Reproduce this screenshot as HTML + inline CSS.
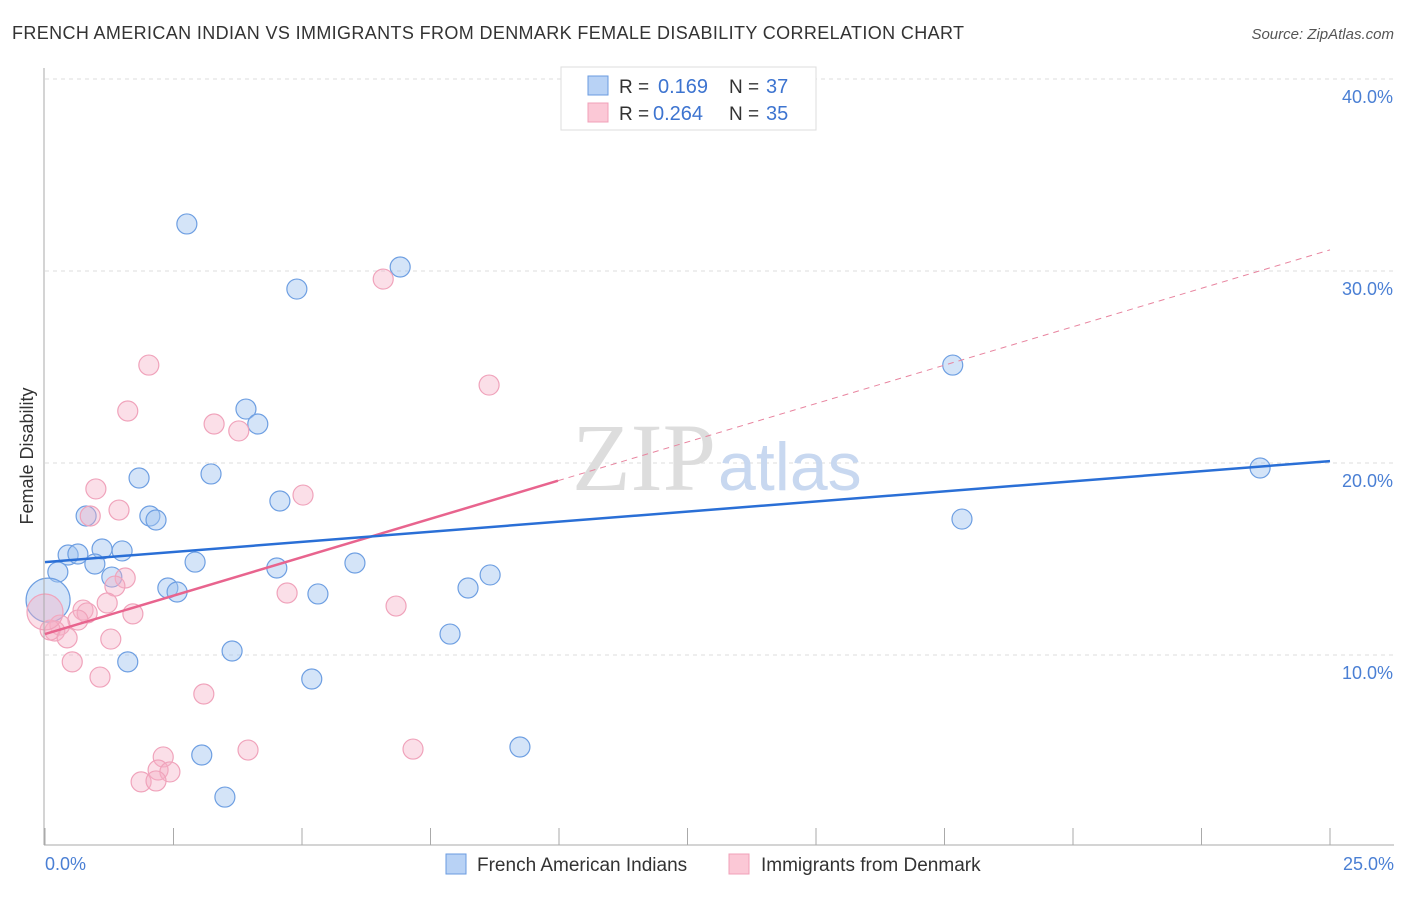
<!DOCTYPE html>
<html><head><meta charset="utf-8"><style>
body{margin:0;background:#fff;font-family:"Liberation Sans",sans-serif}
</style></head><body>
<svg id="chart" width="1406" height="892" xmlns="http://www.w3.org/2000/svg">
<text x="12" y="39" font-size="18" fill="#333" textLength="952" lengthAdjust="spacing">FRENCH AMERICAN INDIAN VS IMMIGRANTS FROM DENMARK FEMALE DISABILITY CORRELATION CHART</text>
<text x="1394" y="39" font-size="15" fill="#555" font-style="italic" text-anchor="end">Source: ZipAtlas.com</text>
<text x="33" y="456" font-size="18" fill="#333" text-anchor="middle" transform="rotate(-90 33 456)">Female Disability</text>
<g id="grid"></g>
<text x="716" y="490" font-size="96" fill="#ddd" font-family="Liberation Serif,serif" text-anchor="end">ZIP</text>
<text x="718" y="490" font-size="68" fill="#c8d8f0">atlas</text>
<g id="marks"></g>
<line x1="44" y1="68" x2="44" y2="845" stroke="#aaa"/>
<line x1="44" y1="845" x2="1394" y2="845" stroke="#aaa"/>
<text x="45" y="870" font-size="18" fill="#4a7fd4">0.0%</text>
<text x="1394" y="870" font-size="18" fill="#4a7fd4" text-anchor="end">25.0%</text>
<g>
<rect x="561" y="67" width="255" height="63" fill="#fff" stroke="#ddd"/>
<rect x="588" y="76" width="20" height="19" fill="#b8d2f5" stroke="#6a9be0"/>
<rect x="588" y="103" width="20" height="19" fill="#fbc8d6" stroke="#f0a0b8"/>
<text x="619" y="93" font-size="19" fill="#333">R =</text>
<text x="658" y="93" font-size="20" fill="#3d74d0">0.169</text>
<text x="729" y="93" font-size="19" fill="#333">N =</text>
<text x="766" y="93" font-size="20" fill="#3d74d0">37</text>
<text x="619" y="120" font-size="19" fill="#333">R =</text>
<text x="653" y="120" font-size="20" fill="#3d74d0">0.264</text>
<text x="729" y="120" font-size="19" fill="#333">N =</text>
<text x="766" y="120" font-size="20" fill="#3d74d0">35</text>
</g>
<g>
<rect x="446" y="854" width="20" height="20" fill="#b8d2f5" stroke="#6a9be0"/>
<text x="477" y="871" font-size="19" fill="#333">French American Indians</text>
<rect x="729" y="854" width="20" height="20" fill="#fbc8d6" stroke="#f0a0b8"/>
<text x="761" y="871" font-size="19" fill="#333">Immigrants from Denmark</text>
</g>
</svg>
<script>
const yTicks=[10,20,30,40];
const yTickLabels=["10.0%","20.0%","30.0%","40.0%"];
const xTicks=[0,2.5,5,7.5,10,12.5,15,17.5,20,22.5,25];
const blueX=[2.76,6.91,4.90,17.66,3.91,4.14,23.64,3.23,1.83,4.57,0.80,2.04,2.16,17.84,0.45,0.64,1.11,1.50,0.97,2.92,6.03,4.51,0.25,1.30,8.66,2.39,2.57,8.23,5.31,0.06,7.88,3.64,1.61,5.19,9.24,3.05,3.50];
const blueY=[32.45,30.21,29.06,25.10,22.81,22.03,19.74,19.43,19.22,18.02,17.24,17.24,17.03,17.08,15.21,15.26,15.52,15.42,14.74,14.84,14.79,14.53,14.32,14.06,14.17,13.49,13.28,13.49,13.18,12.86,11.09,10.21,9.64,8.75,5.21,4.79,2.60];
const pinkX=[6.58,2.02,8.64,1.61,3.29,3.77,0.99,5.02,0.88,1.44,1.56,1.36,4.71,1.21,6.83,0.74,0.82,1.71,0.64,0.29,0.19,0.10,0.43,1.28,0.53,1.07,3.09,3.95,7.16,2.30,2.20,2.43,1.87,2.16,0.0];
const pinkY=[29.58,25.10,24.06,22.71,22.03,21.67,18.65,18.33,17.24,17.55,14.01,13.59,13.23,12.71,12.55,12.34,12.19,12.14,11.82,11.56,11.25,11.30,10.89,10.83,9.64,8.85,7.97,5.05,5.10,4.69,4.01,3.91,3.39,3.44,12.24];
const blueTrend=[14.84,20.1];
const pinkTrend=[11.09,31.1];
const pinkSolidEnd=9.98;
const X=v=>45+v/25*1285, Y=v=>847-v*19.2;
const NS="http://www.w3.org/2000/svg";
function mk(t,a,p){const e=document.createElementNS(NS,t);for(const k in a)e.setAttribute(k,a[k]);p.appendChild(e);return e;}
const grid=document.getElementById('grid'), marks=document.getElementById('marks');
yTicks.forEach((t,i)=>{
 const l=mk('line',{x1:45,x2:1394,y1:Y(t),y2:Y(t),stroke:'#ddd','stroke-dasharray':'4 4'},grid);
 
 
 const tx=mk('text',{x:1393,y:Y(t)+24,'font-size':18,fill:'#4a7fd4','text-anchor':'end'},grid);
 tx.textContent=yTickLabels[i];
 
 
});
xTicks.forEach(t=>{
 const l=mk('line',{x1:X(t),x2:X(t),y1:828,y2:845,stroke:'#aaa'},grid);
 
 
});
function pts(xs,ys,fill,stroke,name,bigR){
 xs.forEach((x,i)=>{
  const big=(x<0.05);
  const c=mk('circle',{cx:X(x),cy:Y(ys[i]),r:big?bigR:10,fill:fill,stroke:stroke,'stroke-width':1.2},marks);
  
  
 });
}
pts(blueX,blueY,'rgba(160,195,240,0.45)','#6e9fe2','blue-point',10);
pts(pinkX,pinkY,'rgba(246,175,198,0.4)','#f0a3bb','pink-point',18);
marks.children[29].setAttribute('r',22);
const pd=mk('line',{x1:X(pinkSolidEnd),y1:Y(pinkTrend[0]+(pinkTrend[1]-pinkTrend[0])*pinkSolidEnd/25),x2:X(25),y2:Y(pinkTrend[1]),stroke:'#e8849f','stroke-width':1,'stroke-dasharray':'6 5'},marks);


const ps=mk('line',{x1:X(0),y1:Y(pinkTrend[0]),x2:X(pinkSolidEnd),y2:Y(pinkTrend[0]+(pinkTrend[1]-pinkTrend[0])*pinkSolidEnd/25),stroke:'#e8648e','stroke-width':2.5},marks);


const bl=mk('line',{x1:X(0),y1:Y(blueTrend[0]),x2:X(25),y2:Y(blueTrend[1]),stroke:'#2a6fd6','stroke-width':2.5},marks);


</script>
</body></html>
